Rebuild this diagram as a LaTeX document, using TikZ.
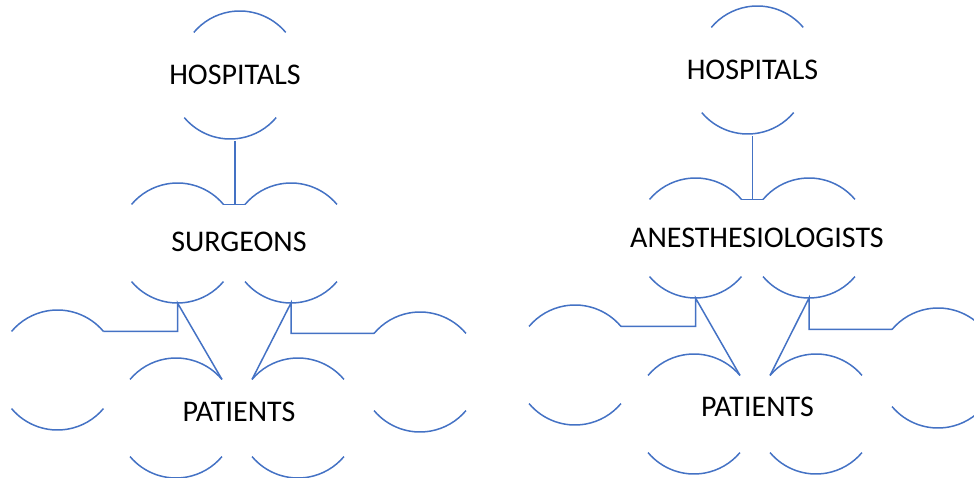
\documentclass[tikz,border=0pt]{standalone}
\usepackage{fontspec}
\setmainfont{Carlito}
\definecolor{linkblue}{RGB}{68,114,196}
\begin{document}
\begin{tikzpicture}[x=1pt,y=1pt,
  ring/.style={circle,minimum size=120pt,inner sep=0pt,outer sep=0pt},
  link/.style={draw=linkblue,line width=1.5pt},
  every node/.style={font=\fontsize{30}{36}\selectfont}]
\useasboundingbox (0,0) rectangle (974,477);
\clip (0,0) rectangle (974,477);
% left tree: surgeons
\node[ring] (hospA) at (235,402) {HOSPITALS};
\node[ring] (surgL) at (177.5,234) {};
\node[ring] (surgR) at (291,234) {};
\node[ring] (patFL) at (57.5,107) {};
\node[ring] (patML) at (176,59) {};
\node[ring] (patMR) at (298,59) {};
\node[ring] (patFR) at (420,105) {};
\node (surgText) at (239,235) {SURGEONS};
\node (patAText) at (239,65) {PATIENTS};
% right tree: anesthesiologists
\node[ring] (hospB) at (752.5,407) {HOSPITALS};
\node[ring] (anesL) at (695.5,239) {};
\node[ring] (anesR) at (809,239) {};
\node[ring] (patBFL) at (575,112) {};
\node[ring] (patBML) at (694,63) {};
\node[ring] (patBMR) at (816,63) {};
\node[ring] (patBFR) at (938,109) {};
\node (anesText) at (757,239) {ANESTHESIOLOGISTS};
\node (patBText) at (757.5,70) {PATIENTS};
% open rings: top and bottom arcs only
\foreach \n in {hospA,surgL,surgR,patFL,patML,patMR,patFR,hospB,anesL,anesR,patBFL,patBML,patBMR,patBFR}
  \draw[link] (\n.40) arc[start angle=40,end angle=140,radius=60pt]
              (\n.220) arc[start angle=220,end angle=320,radius=60pt];
% connectors
\draw[link] (surgL.40) -- (surgR.140);
\draw[link] (hospA.south) -- (hospA.south |- surgL.40);
\draw[link] (patFL.40) -- (patFL.40 -| surgL.south) -- (surgL.south) -- (patML.40);
\draw[link] (patFR.140) -- (patFR.140 -| surgR.south) -- (surgR.south) -- (patMR.140);
\draw[link] (anesL.40) -- (anesR.140);
\draw[link] (hospB.south) -- (hospB.south |- anesL.40);
\draw[link] (patBFL.40) -- (patBFL.40 -| anesL.south) -- (anesL.south) -- (patBML.40);
\draw[link] (patBFR.140) -- (patBFR.140 -| anesR.south) -- (anesR.south) -- (patBMR.140);
\end{tikzpicture}
\end{document}
